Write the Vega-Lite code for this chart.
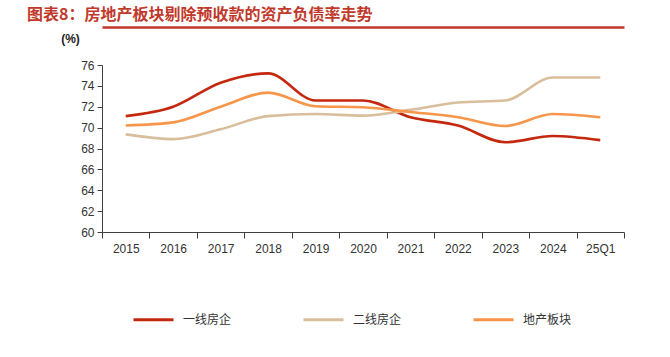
{
  "$schema": "https://vega.github.io/schema/vega-lite/v6.json",
  "width": 522,
  "height": 167,
  "autosize": {"type": "none"},
  "padding": {"left": 102, "top": 65, "right": 46, "bottom": 125},
  "background": "white",
  "title": {
    "text": "图表8：房地产板块剔除预收款的资产负债率走势",
    "anchor": "start",
    "frame": "group",
    "orient": "top",
    "dx": -75,
    "dy": 17,
    "offset": 8,
    "baseline": "alphabetic",
    "font": "Noto Sans CJK SC",
    "fontSize": 16,
    "fontWeight": "bold",
    "color": "#C0392B"
  },
  "config": {
    "view": {"stroke": null},
    "font": "Noto Sans CJK SC"
  },
  "data": {
    "values": [
      {"period": "2015", "series": "一线房企", "value": 71.1},
      {"period": "2016", "series": "一线房企", "value": 72.0},
      {"period": "2017", "series": "一线房企", "value": 74.3},
      {"period": "2018", "series": "一线房企", "value": 75.2},
      {"period": "2019", "series": "一线房企", "value": 72.6},
      {"period": "2020", "series": "一线房企", "value": 72.6},
      {"period": "2021", "series": "一线房企", "value": 71.0},
      {"period": "2022", "series": "一线房企", "value": 70.2},
      {"period": "2023", "series": "一线房企", "value": 68.6},
      {"period": "2024", "series": "一线房企", "value": 69.2},
      {"period": "25Q1", "series": "一线房企", "value": 68.8},
      {"period": "2015", "series": "二线房企", "value": 69.35},
      {"period": "2016", "series": "二线房企", "value": 68.9},
      {"period": "2017", "series": "二线房企", "value": 69.85},
      {"period": "2018", "series": "二线房企", "value": 71.1},
      {"period": "2019", "series": "二线房企", "value": 71.3},
      {"period": "2020", "series": "二线房企", "value": 71.15},
      {"period": "2021", "series": "二线房企", "value": 71.7},
      {"period": "2022", "series": "二线房企", "value": 72.4},
      {"period": "2023", "series": "二线房企", "value": 72.6},
      {"period": "2024", "series": "二线房企", "value": 74.8},
      {"period": "25Q1", "series": "二线房企", "value": 74.8},
      {"period": "2015", "series": "地产板块", "value": 70.2},
      {"period": "2016", "series": "地产板块", "value": 70.5},
      {"period": "2017", "series": "地产板块", "value": 72.0},
      {"period": "2018", "series": "地产板块", "value": 73.35},
      {"period": "2019", "series": "地产板块", "value": 72.05},
      {"period": "2020", "series": "地产板块", "value": 71.95},
      {"period": "2021", "series": "地产板块", "value": 71.5},
      {"period": "2022", "series": "地产板块", "value": 71.0},
      {"period": "2023", "series": "地产板块", "value": 70.15},
      {"period": "2024", "series": "地产板块", "value": 71.3},
      {"period": "25Q1", "series": "地产板块", "value": 71.0}
    ]
  },
  "encoding": {
    "y": {
      "field": "value",
      "type": "quantitative",
      "scale": {"domain": [60, 76], "nice": false, "zero": false},
      "axis": {
        "title": "(%)",
        "titleAngle": 0,
        "titleX": -32,
        "titleY": -27,
        "titleAlign": "center",
        "titleBaseline": "middle",
        "titleFontSize": 12,
        "titleFontWeight": "bold",
        "titleColor": "#222222",
        "titleFont": "Liberation Sans",
        "values": [60, 62, 64, 66, 68, 70, 72, 74, 76],
        "labelOverlap": false,
        "grid": false,
        "domainColor": "#404040",
        "tickColor": "#404040",
        "tickSize": 5,
        "labelFontSize": 12,
        "labelColor": "#333333",
        "labelPadding": 3,
        "labelFont": "Liberation Sans"
      }
    },
    "color": {
      "field": "series",
      "type": "nominal",
      "scale": {
        "domain": ["一线房企", "二线房企", "地产板块"],
        "range": ["#C4280F", "#D8BE9B", "#F7964A"]
      },
      "legend": {
        "title": null,
        "orient": "none",
        "direction": "horizontal",
        "legendX": 30,
        "legendY": 233,
        "symbolType": "stroke",
        "symbolSize": 1600,
        "symbolStrokeWidth": 3,
        "labelFontSize": 12,
        "labelColor": "#333333",
        "labelOffset": 8,
        "columnPadding": 65
      }
    }
  },
  "layer": [
    {
      "mark": {"type": "line", "interpolate": "monotone", "strokeWidth": 2.6},
      "encoding": {
        "x": {
          "field": "period",
          "type": "ordinal",
          "scale": {"type": "band", "paddingInner": 0, "paddingOuter": 0},
          "axis": {
            "title": null,
            "labelAngle": 0,
            "tickBand": "extent",
            "domainColor": "#404040",
            "tickColor": "#404040",
            "tickSize": 6,
            "labelFontSize": 12,
            "labelColor": "#333333",
            "labelPadding": 5,
            "labelFont": "Liberation Sans"
          }
        }
      }
    },
    {
      "mark": {"type": "line", "opacity": 0},
      "encoding": {
        "x": {
          "field": "period",
          "type": "ordinal",
          "scale": {"type": "band", "paddingInner": 0, "paddingOuter": 0},
          "axis": {
            "orient": "top",
            "title": null,
            "labels": false,
            "ticks": false,
            "offset": 38,
            "domainColor": "#C0392B",
            "domainWidth": 2.5
          }
        }
      }
    }
  ],
  "resolve": {"axis": {"x": "independent"}}
}
